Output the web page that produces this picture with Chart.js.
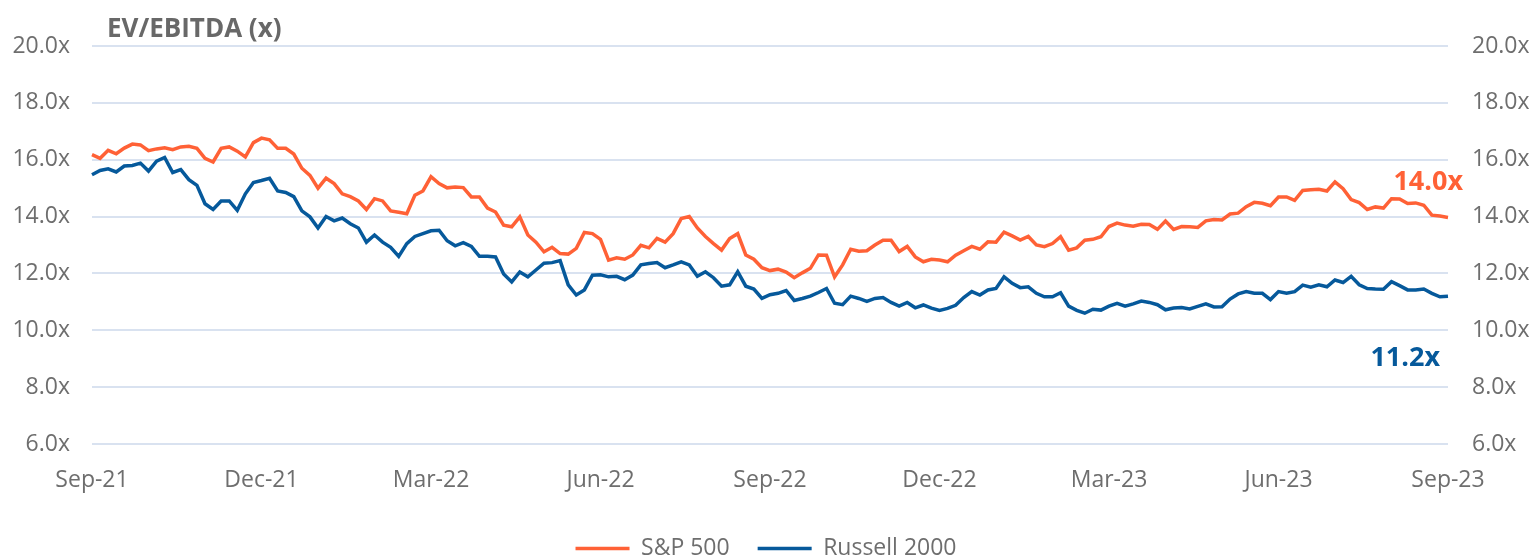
<!DOCTYPE html>
<html>
<head>
<meta charset="utf-8">
<title>EV/EBITDA</title>
<script src="https://cdn.jsdelivr.net/npm/chart.js@4.4.0/dist/chart.umd.min.js"></script>
<style>
  html, body { margin: 0; padding: 0; background: #fff; }
  #wrap { width: 1532px; height: 560px; }
</style>
</head>
<body>
<div id="wrap"><canvas id="evChart"></canvas></div>
<script>
// EV/EBITDA - S&P 500 vs Russell 2000, Sep-21 to Sep-23

// Quarter tick labels along the x axis
const quarterLabels = ['Sep-21', 'Dec-21', 'Mar-22', 'Jun-22', 'Sep-22', 'Dec-22', 'Mar-23', 'Jun-23', 'Sep-23'];
const pointsPerQuarter = 21;

// S&P 500 EV/EBITDA (x)
const spxValues = [
  16.18, 16.05, 16.33, 16.21, 16.41, 16.55, 16.52, 16.32, 16.38, 16.42, 16.35, 16.45, 16.47, 16.40, 16.05, 15.92, 16.40, 16.45, 16.30, 16.10, 16.60,
  16.76, 16.70, 16.40, 16.40, 16.20, 15.70, 15.45, 15.00, 15.35, 15.16, 14.80, 14.70, 14.55, 14.25, 14.63, 14.55, 14.20, 14.15, 14.10, 14.75, 14.90,
  15.40, 15.16, 15.01, 15.04, 15.02, 14.69, 14.69, 14.30, 14.16, 13.70, 13.64, 13.99, 13.35, 13.10, 12.76, 12.92, 12.70, 12.68, 12.88, 13.44, 13.40,
  13.20, 12.47, 12.55, 12.50, 12.65, 12.99, 12.90, 13.23, 13.10, 13.40, 13.93, 14.00, 13.60, 13.30, 13.05, 12.82, 13.23, 13.40, 12.65, 12.50, 12.20,
  12.10, 12.15, 12.05, 11.85, 12.02, 12.18, 12.65, 12.64, 11.88, 12.30, 12.85, 12.78, 12.80, 13.00, 13.17, 13.17, 12.77, 12.95, 12.58, 12.41, 12.50,
  12.47, 12.41, 12.64, 12.80, 12.95, 12.85, 13.11, 13.10, 13.45, 13.32, 13.17, 13.30, 13.00, 12.94, 13.05, 13.29, 12.82, 12.90, 13.17, 13.20, 13.29,
  13.65, 13.77, 13.70, 13.66, 13.73, 13.72, 13.55, 13.84, 13.55, 13.65, 13.64, 13.62, 13.85, 13.90, 13.88, 14.09, 14.12, 14.35, 14.50, 14.47, 14.38,
  14.69, 14.69, 14.57, 14.92, 14.94, 14.96, 14.90, 15.22, 14.98, 14.60, 14.49, 14.25, 14.34, 14.30, 14.63, 14.62, 14.46, 14.48, 14.40, 14.05, 14.02,
  13.97
];

// Russell 2000 EV/EBITDA (x)
const rutValues = [
  15.47, 15.62, 15.68, 15.57, 15.78, 15.80, 15.88, 15.60, 15.95, 16.08, 15.55, 15.65, 15.30, 15.10, 14.45, 14.25, 14.55, 14.55, 14.22, 14.80, 15.20,
  15.27, 15.35, 14.90, 14.85, 14.70, 14.20, 13.99, 13.60, 14.00, 13.85, 13.95, 13.75, 13.60, 13.10, 13.35, 13.10, 12.92, 12.60, 13.05, 13.30, 13.40,
  13.50, 13.52, 13.15, 12.97, 13.08, 12.95, 12.60, 12.60, 12.58, 11.98, 11.70, 12.05, 11.88, 12.12, 12.36, 12.38, 12.45, 11.60, 11.24, 11.42, 11.94,
  11.95, 11.88, 11.90, 11.78, 11.94, 12.30, 12.35, 12.38, 12.20, 12.30, 12.41, 12.30, 11.90, 12.06, 11.85, 11.55, 11.60, 12.06, 11.55, 11.45, 11.12,
  11.25, 11.30, 11.40, 11.05, 11.12, 11.20, 11.33, 11.47, 10.95, 10.90, 11.20, 11.12, 11.02, 11.12, 11.15, 10.98, 10.85, 10.98, 10.79, 10.89, 10.78,
  10.70, 10.77, 10.88, 11.15, 11.36, 11.24, 11.42, 11.47, 11.88, 11.65, 11.50, 11.53, 11.30, 11.18, 11.18, 11.32, 10.85, 10.70, 10.60, 10.74, 10.71,
  10.85, 10.95, 10.85, 10.93, 11.03, 10.98, 10.90, 10.72, 10.78, 10.80, 10.75, 10.84, 10.93, 10.82, 10.83, 11.10, 11.28, 11.36, 11.30, 11.30, 11.08,
  11.36, 11.30, 11.36, 11.59, 11.52, 11.60, 11.53, 11.77, 11.68, 11.90, 11.60, 11.47, 11.45, 11.44, 11.71, 11.57, 11.42, 11.42, 11.45, 11.30, 11.18,
  11.20
];

// Y axis range
const yMin = 6;
const yMax = 20;
const yStep = 2;

const ORANGE = '#FF6136';
const BLUE = '#06599B';
const GRID = '#D9E2F0';
const TEXT = '#6E6E6E';
const FONT = "'Open Sans', sans-serif";

// One category per observation
const categories = spxValues.map((_, i) => i);

function tickLabel(value) {
  return value.toFixed(1) + 'x';
}

// Chart title drawn above the plot, aligned near the left edge
const titlePlugin = {
  id: 'cornerTitle',
  afterDraw(chart) {
    const { ctx, chartArea } = chart;
    ctx.save();
    ctx.font = `bold 26px ${FONT}`;
    ctx.fillStyle = '#686868';
    ctx.textAlign = 'left';
    ctx.textBaseline = 'middle';
    ctx.fillText('EV/EBITDA (x)', chartArea.left + 15, 30);
    ctx.restore();
  }
};

// Latest value labels next to the end of each line
const endLabelPlugin = {
  id: 'endLabels',
  afterDatasetsDraw(chart) {
    const { ctx } = chart;
    const xScale = chart.scales.x;
    const yScale = chart.scales.y;
    const offsets = [{ dx: 15, dy: -35 }, { dx: -8, dy: 62 }];

    ctx.save();
    ctx.font = `bold 27px ${FONT}`;
    ctx.textAlign = 'right';
    ctx.textBaseline = 'middle';
    chart.data.datasets.forEach((ds, i) => {
      const last = ds.data.length - 1;
      const x = xScale.getPixelForValue(last);
      const y = yScale.getPixelForValue(ds.data[last]);
      ctx.fillStyle = ds.borderColor;
      ctx.fillText(tickLabel(ds.data[last]), x + offsets[i].dx, y + offsets[i].dy);
    });
    ctx.restore();
  }
};

new Chart(document.getElementById('evChart'), {
  type: 'line',
  data: {
    labels: categories,
    datasets: [
      {
        label: 'S&P 500',
        data: spxValues,
        borderColor: ORANGE,
        backgroundColor: ORANGE,
        borderWidth: 3.5,
        pointRadius: 0,
        tension: 0
      },
      {
        label: 'Russell 2000',
        data: rutValues,
        borderColor: BLUE,
        backgroundColor: BLUE,
        borderWidth: 3.5,
        pointRadius: 0,
        tension: 0
      }
    ]
  },
  options: {
    responsive: true,
    maintainAspectRatio: false,
    animation: false,
    layout: {
      padding: { top: 46, bottom: -10, left: 0, right: 0 }
    },
    plugins: {
      legend: {
        position: 'bottom',
        labels: {
          usePointStyle: true,
          pointStyle: 'line',
          pointStyleWidth: 54,
          boxHeight: 20,
          padding: 28,
          color: TEXT,
          font: { family: FONT, size: 23 }
        }
      },
      tooltip: { enabled: false }
    },
    scales: {
      x: {
        type: 'category',
        offset: false,
        afterFit: scale => { scale.height = 65; },
        grid: { display: false },
        border: { display: false },
        ticks: {
          autoSkip: false,
          maxRotation: 0,
          padding: 15,
          color: TEXT,
          font: { family: FONT, size: 23 },
          callback: (value, index) => index % pointsPerQuarter === 0 ? quarterLabels[index / pointsPerQuarter] : ''
        }
      },
      y: {
        position: 'left',
        min: yMin,
        max: yMax,
        afterFit: scale => { scale.width = 92; },
        grid: { color: GRID, lineWidth: 2, drawTicks: false },
        border: { display: false },
        ticks: {
          stepSize: yStep,
          padding: 22,
          color: TEXT,
          font: { family: FONT, size: 23 },
          callback: tickLabel
        }
      },
      y2: {
        position: 'right',
        min: yMin,
        max: yMax,
        afterFit: scale => { scale.width = 84; },
        grid: { display: false },
        border: { display: false },
        ticks: {
          stepSize: yStep,
          padding: 16,
          color: TEXT,
          font: { family: FONT, size: 23 },
          callback: tickLabel
        }
      }
    }
  },
  plugins: [titlePlugin, endLabelPlugin]
});
</script>
</body>
</html>
